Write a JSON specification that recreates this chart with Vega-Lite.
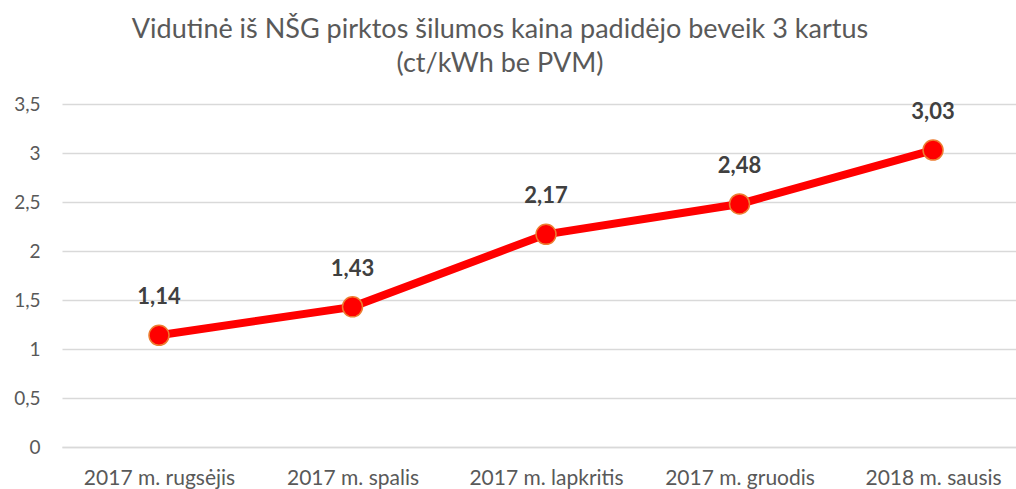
{
  "$schema": "https://vega.github.io/schema/vega-lite/v6.json",
  "width": 954,
  "height": 343,
  "autosize": {"type": "none"},
  "padding": {"left": 62, "top": 104, "right": 0, "bottom": 42},
  "background": "white",
  "config": {
    "locale": {"number": {"decimal": ",", "thousands": " ", "grouping": [3], "currency": ["", " €"]}},
    "font": "Lato",
    "view": {"stroke": null}
  },
  "title": {
    "text": ["Vidutinė iš NŠG pirktos šilumos kaina padidėjo beveik 3 kartus", "(ct/kWh be PVM)"],
    "anchor": "middle",
    "frame": "group",
    "dx": -39,
    "offset": 17,
    "fontSize": 27,
    "fontWeight": "normal",
    "color": "#595959",
    "lineHeight": 34,
    "font": "Lato"
  },
  "data": {
    "values": [
      {"month": "2017 m. rugsėjis", "price": 1.14},
      {"month": "2017 m. spalis", "price": 1.43},
      {"month": "2017 m. lapkritis", "price": 2.17},
      {"month": "2017 m. gruodis", "price": 2.48},
      {"month": "2018 m. sausis", "price": 3.03}
    ]
  },
  "encoding": {
    "x": {
      "field": "month", "type": "ordinal", "sort": null,
      "scale": {"padding": 0.465, "align": 0.539},
      "axis": {"title": null, "labelAngle": 0, "labelFontSize": 21, "labelColor": "#595959", "labelPadding": 20, "ticks": false, "domainColor": "#d9d9d9", "domainWidth": 1.5}
    },
    "y": {
      "field": "price", "type": "quantitative",
      "scale": {"domain": [0, 3.5]},
      "axis": {"title": null, "values": [0, 0.5, 1, 1.5, 2, 2.5, 3, 3.5], "format": "~g", "labelFontSize": 19, "labelColor": "#595959", "labelPadding": 22, "ticks": false, "domain": false, "gridColor": "#d9d9d9", "gridWidth": 1.3}
    }
  },
  "layer": [
    {"mark": {"type": "line", "color": "#ff0000", "strokeWidth": 8}},
    {"mark": {"type": "point", "filled": true, "fill": "#ff0000", "stroke": "#ed7d31", "strokeWidth": 1.5, "size": 400, "opacity": 1}},
    {"mark": {"type": "text", "dy": -38, "fontSize": 22, "fontWeight": "bold", "color": "#404040"}, "encoding": {"text": {"field": "price", "type": "quantitative", "format": ".2f"}}}
  ]
}
